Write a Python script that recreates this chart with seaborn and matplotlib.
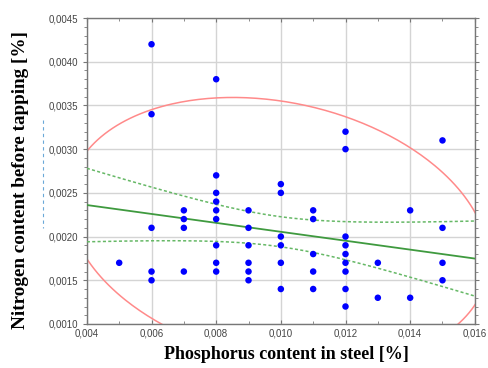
import numpy as np
import pandas as pd
import matplotlib
matplotlib.use("Agg")
import matplotlib.pyplot as plt
import matplotlib.ticker as mticker
from matplotlib.lines import Line2D
import seaborn as sns

# ---- data ----
phosphorus = [0.005,
              0.006, 0.006, 0.006, 0.006, 0.006,
              0.007, 0.007, 0.007, 0.007,
              0.008, 0.008, 0.008, 0.008, 0.008, 0.008, 0.008, 0.008, 0.008,
              0.009, 0.009, 0.009, 0.009, 0.009, 0.009,
              0.010, 0.010, 0.010, 0.010, 0.010, 0.010,
              0.011, 0.011, 0.011, 0.011, 0.011,
              0.012, 0.012, 0.012, 0.012, 0.012, 0.012, 0.012, 0.012, 0.012,
              0.013, 0.013,
              0.014, 0.014,
              0.015, 0.015, 0.015, 0.015]
nitrogen = [0.0017,
            0.0042, 0.0034, 0.0021, 0.0016, 0.0015,
            0.0023, 0.0022, 0.0021, 0.0016,
            0.0038, 0.0027, 0.0025, 0.0024, 0.0023, 0.0022, 0.0019, 0.0017, 0.0016,
            0.0023, 0.0021, 0.0019, 0.0017, 0.0016, 0.0015,
            0.0026, 0.0025, 0.0020, 0.0019, 0.0017, 0.0014,
            0.0023, 0.0022, 0.0018, 0.0016, 0.0014,
            0.0032, 0.0030, 0.0020, 0.0019, 0.0018, 0.0017, 0.0016, 0.0014, 0.0012,
            0.0017, 0.0013,
            0.0023, 0.0013,
            0.0031, 0.0021, 0.0017, 0.0015]
x_ticks = [0.004, 0.006, 0.008, 0.010, 0.012, 0.014, 0.016]
y_ticks = [0.0010, 0.0015, 0.0020, 0.0025, 0.0030, 0.0035, 0.0040, 0.0045]
x_label = "Phosphorus content in steel [%]"
y_label = "Nitrogen content before tapping [%]"

df = pd.DataFrame({"P": phosphorus, "N": nitrogen})

# ---- statistics: regression, 95% CI of mean, 95% ellipse ----
x = df["P"].to_numpy()
y = df["N"].to_numpy()
n = len(x)
b1, b0 = np.polyfit(x, y, 1)
resid = y - (b0 + b1 * x)
s = np.sqrt(np.sum(resid ** 2) / (n - 2))
t = 2.008
xg = np.linspace(0.004, 0.016, 200)
yhat = b0 + b1 * xg
se = s * np.sqrt(1 / n + (xg - x.mean()) ** 2 / np.sum((x - x.mean()) ** 2))
fit = pd.DataFrame({"x": xg, "fit": yhat, "lo": yhat - t * se, "hi": yhat + t * se})

cov = np.cov(x, y, ddof=0)
vals, vecs = np.linalg.eigh(cov)
k = np.sqrt(5.991)
th = np.linspace(0, 2 * np.pi, 400)
circ = np.vstack([np.cos(th), np.sin(th)])
ell = vecs @ (np.sqrt(vals)[:, None] * circ) * k
ell_df = pd.DataFrame({"x": ell[0] + x.mean(), "y": ell[1] + y.mean()})

# ---- figure ----
sns.set_style("white")
plt.rcParams["font.family"] = ["Liberation Sans", "DejaVu Sans"]
fig = plt.figure(figsize=(4.88, 3.68), dpi=100)
ax = fig.add_axes([0.178, 0.1196, 0.795, 0.8314])

sns.lineplot(data=ell_df, x="x", y="y", sort=False, estimator=None, ax=ax,
             color="#ff8a8a", lw=1.1, zorder=2)
sns.lineplot(data=fit, x="x", y="fit", ax=ax, color="#3f9a3f", lw=1.3, zorder=3)
sns.lineplot(data=fit, x="x", y="hi", ax=ax, color="#66b866", lw=1.1,
             linestyle=(0, (2, 1.5)), zorder=3)
sns.lineplot(data=fit, x="x", y="lo", ax=ax, color="#66b866", lw=1.1,
             linestyle=(0, (2, 1.5)), zorder=3)
sns.scatterplot(data=df, x="P", y="N", ax=ax, color="#0000ff", s=22,
                edgecolor="none", zorder=4)

ax.set_xlim(0.004, 0.016)
ax.set_ylim(0.0010, 0.0045)
ax.set_xticks(x_ticks)
ax.set_yticks(y_ticks)
ax.xaxis.set_minor_locator(mticker.MultipleLocator(0.001))
ax.yaxis.set_minor_locator(mticker.MultipleLocator(0.0001))
ax.xaxis.set_major_formatter(mticker.FuncFormatter(lambda v, p: f"{v:.3f}".replace(".", ",")))
ax.yaxis.set_major_formatter(mticker.FuncFormatter(lambda v, p: f"{v:.4f}".replace(".", ",")))
ax.grid(True, which="major", color="#d4d4d4", lw=1.0)
ax.set_axisbelow(True)
ax.tick_params(which="both", direction="in", top=True, right=True, bottom=True, left=True,
               colors="#777777", labelcolor="#444444", labelsize=7)
ax.tick_params(which="major", length=3, width=0.8)
ax.tick_params(which="minor", length=2, width=0.6)
ax.tick_params(axis="y", which="both", direction="out")
for sp in ax.spines.values():
    sp.set_color("#777777")
    sp.set_linewidth(1.0)

ax.set_xlabel(x_label, fontfamily="Liberation Serif", fontweight="bold", fontsize=13,
              color="black")
ax.set_ylabel(y_label, fontfamily="Liberation Serif", fontweight="bold", fontsize=13.8,
              color="black")
ax.xaxis.set_label_coords(0.515, -0.072)
ax.yaxis.set_label_coords(-0.15, 0.47)

# faint dashed artifact next to the y label
fig.add_artist(Line2D([43 / 488, 43 / 488], [1 - 120 / 368, 1 - 228 / 368],
                      color="#6aa8d8", lw=0.8, linestyle=(0, (3, 3))))

fig.savefig("out.png", dpi=100)
